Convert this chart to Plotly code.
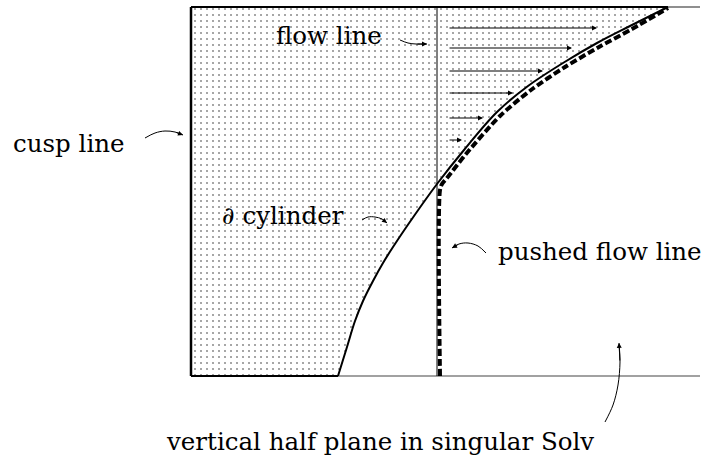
import plotly.graph_objects as go

# ---- diagram data (pixel-like coordinates, y downward) ----
frame_left = [191, 191]
frame_left_y = [7, 376]
top_thick_x = [191, 668]
top_y = [7, 7]
top_thin_x = [668, 700]
bottom_thick_x = [191, 338]
bottom_y = [376, 376]
bottom_thin_x = [338, 700]

# boundary of the cylinder (solid curve)
curve_x = [338, 347, 355, 363, 373, 383, 393, 414, 437, 464, 497, 528, 563, 597, 630, 668]
curve_y = [376, 347, 321, 301, 281, 263, 247, 216, 184, 150, 112, 86, 63, 43, 26, 7]

# thin vertical flow line
flow_x = [437, 437]
flow_y = [7, 376]

# pushed flow line (dashed)
pushed_x = [440, 440, 442, 447, 466, 500, 531, 565, 599, 632, 668]
pushed_y = [376, 190, 184, 178, 154, 116, 90, 67, 47, 29, 8]

# horizontal flow arrows
arrow_start_x = 448
arrow_y = [28, 48, 71, 93, 118, 140]
arrow_end_x = [597, 572, 543, 513, 483, 462]

labels = ["cusp line", "flow line", "∂ cylinder", "pushed flow line",
          "vertical half plane in singular Solv"]
label_x = [11, 274, 220, 496, 164]
label_y = [143, 35, 215, 251, 441]

# curved pointer arrows: lists of points, arrow head at last point
pointers = [
    ([145, 155, 165, 175, 183], [138, 133, 131, 132, 135]),
    ([400, 408, 416, 427], [40, 43, 44, 44]),
    ([362, 368, 375, 382, 387], [220, 217, 217, 219, 223]),
    ([486, 478, 468, 459, 452], [253, 246, 243, 244, 248]),
    ([605, 613, 618, 620, 619], [422, 405, 385, 362, 343]),
]

fig = go.Figure()

# dotted region
poly_x = [191] + top_thick_x[1:] + curve_x[::-1][1:] + [191, 191]
poly_y = [7] + [7] + curve_y[::-1][1:] + [376, 7]
fig.add_trace(go.Scatter(
    x=poly_x, y=poly_y, mode="lines", fill="toself",
    fillcolor="rgba(0,0,0,0)",
    fillpattern=dict(shape=".", size=6, solidity=0.1, fgcolor="#222", bgcolor="white", fillmode="overlay"),
    line=dict(width=0), hoverinfo="skip"))

def line(x, y, w=1, color="black", dash=None, shape="linear", smoothing=1):
    fig.add_trace(go.Scatter(x=x, y=y, mode="lines",
                             line=dict(width=w, color=color, dash=dash, shape=shape, smoothing=smoothing),
                             hoverinfo="skip"))

line(top_thin_x, top_y, 1.2, "#444")
line(bottom_thin_x, bottom_y, 1.2, "#444")
line(frame_left, frame_left_y, 2.5)
line(top_thick_x, top_y, 2)
line(bottom_thick_x, bottom_y, 2)
line(flow_x, flow_y, 1)
line(curve_x, curve_y, 2, shape="spline", smoothing=1)
line(pushed_x, pushed_y, 4, dash="7px,3px", shape="spline", smoothing=0.8)

for px, py in pointers:
    line(px, py, 1, shape="spline")

ann = []
for y, xe in zip(arrow_y, arrow_end_x):
    ann.append(dict(x=xe, y=y, ax=arrow_start_x, ay=y, xref="x", yref="y", axref="x", ayref="y",
                    showarrow=True, arrowhead=2, arrowsize=1, arrowwidth=1, arrowcolor="black",
                    text="", standoff=0, startstandoff=0))
for px, py in pointers:
    ann.append(dict(x=px[-1], y=py[-1], ax=px[-2], ay=py[-2], xref="x", yref="y", axref="x", ayref="y",
                    showarrow=True, arrowhead=2, arrowsize=1, arrowwidth=1, arrowcolor="black",
                    text="", standoff=0, startstandoff=0))
for t, x, y in zip(labels, label_x, label_y):
    ann.append(dict(x=x, y=y, xref="x", yref="y", text=t, showarrow=False,
                    xanchor="left", yanchor="middle",
                    font=dict(family="DejaVu Serif", size=24.5, color="black")))

fig.update_layout(
    width=701, height=461, margin=dict(l=0, r=0, t=0, b=0),
    paper_bgcolor="white", plot_bgcolor="white", showlegend=False,
    xaxis=dict(range=[0, 701], visible=False, fixedrange=True),
    yaxis=dict(range=[461, 0], visible=False, fixedrange=True),
    annotations=ann,
)

fig.write_html("out.html", config={"displayModeBar": False},
               post_script="document.body.style.margin='0';document.body.style.overflow='hidden';")
